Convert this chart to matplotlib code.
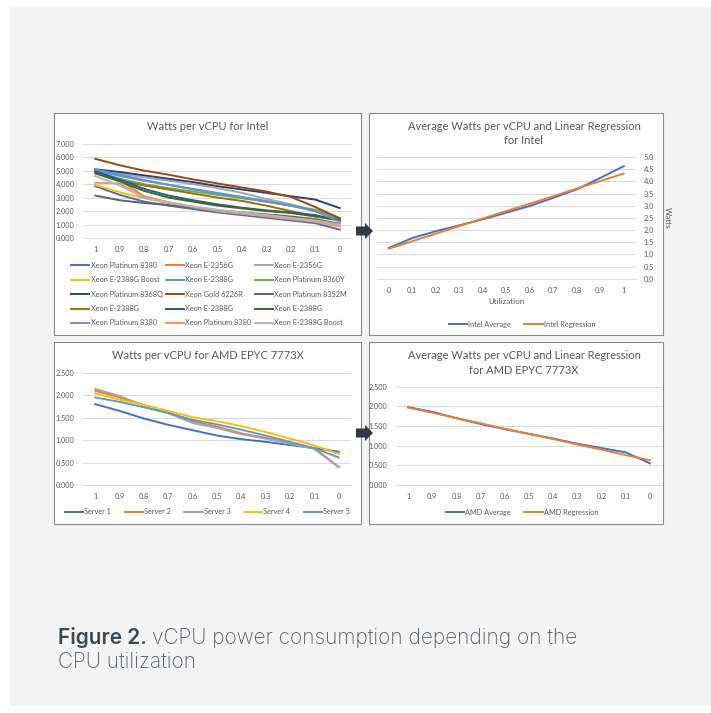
import numpy as np
import matplotlib
matplotlib.use("Agg")
import matplotlib.pyplot as plt
from matplotlib.patches import Rectangle, Polygon
from matplotlib.ticker import FormatStrFormatter

# ---- data -------------------------------------------------------------
util_desc = ["1", "0.9", "0.8", "0.7", "0.6", "0.5", "0.4", "0.3", "0.2", "0.1", "0"]
util_asc = ["0", "0.1", "0.2", "0.3", "0.4", "0.5", "0.6", "0.7", "0.8", "0.9", "1"]

intel_names = ["Xeon Platinum 8380", "Xeon E-2356G", "Xeon E-2356G",
               "Xeon E-2388G Boost", "Xeon E-2388G", "Xeon Platinum 8360Y",
               "Xeon Platinum 8368Q", "Xeon Gold 6226R", "Xeon Platinum 8352M",
               "Xeon E-2388G", "Xeon E-2388G", "Xeon E-2388G",
               "Xeon Platinum 8380", "Xeon Platinum 8380", "Xeon E-2388G Boost"]
intel_colors = ["#4472C4", "#ED7D31", "#A5A5A5", "#FFC000", "#5B9BD5", "#70AD47",
                "#264478", "#9E480E", "#636363", "#997300", "#255E91", "#43682B",
                "#698ED0", "#F1975A", "#B7B7B7"]
intel_values = [
    [3.85, 3.20, 2.70, 2.40, 2.15, 1.90, 1.70, 1.50, 1.30, 1.10, 0.62],
    [4.90, 4.30, 3.10, 2.65, 2.30, 2.05, 1.85, 1.65, 1.45, 1.25, 0.90],
    [5.05, 4.80, 4.50, 4.25, 4.00, 3.70, 3.35, 2.90, 2.50, 2.00, 1.30],
    [3.95, 3.40, 2.95, 2.60, 2.30, 2.05, 1.85, 1.65, 1.45, 1.25, 0.90],
    [5.00, 4.60, 4.25, 3.95, 3.65, 3.35, 3.05, 2.75, 2.40, 2.00, 1.35],
    [4.90, 4.40, 4.00, 3.70, 3.45, 3.20, 2.95, 2.70, 2.40, 2.10, 1.50],
    [5.10, 4.90, 4.65, 4.40, 4.15, 3.85, 3.60, 3.35, 3.10, 2.85, 2.22],
    [5.88, 5.40, 5.00, 4.70, 4.35, 4.05, 3.75, 3.45, 3.05, 2.30, 1.45],
    [3.15, 2.80, 2.60, 2.45, 2.25, 2.05, 1.90, 1.75, 1.60, 1.40, 1.05],
    [4.85, 4.30, 3.90, 3.60, 3.30, 3.00, 2.75, 2.40, 2.00, 1.60, 1.35],
    [4.95, 4.35, 3.65, 3.15, 2.80, 2.50, 2.25, 2.05, 1.90, 1.70, 1.30],
    [4.80, 4.20, 3.50, 3.00, 2.70, 2.40, 2.20, 2.00, 1.85, 1.60, 1.30],
    [5.10, 4.70, 4.30, 3.95, 3.60, 3.30, 3.00, 2.70, 2.40, 2.00, 1.20],
    [4.10, 4.05, 3.00, 2.60, 2.30, 2.00, 1.80, 1.60, 1.40, 1.20, 0.85],
    [4.60, 3.90, 3.00, 2.65, 2.35, 2.10, 1.90, 1.70, 1.50, 1.30, 1.00],
]

intel_avg = [1.26, 1.67, 1.95, 2.19, 2.44, 2.71, 2.99, 3.32, 3.67, 4.14, 4.62]
intel_reg = [1.23, 1.54, 1.85, 2.16, 2.47, 2.78, 3.08, 3.39, 3.70, 4.01, 4.32]

amd_names = ["Server 1", "Server 2", "Server 3", "Server 4", "Server 5"]
amd_colors = ["#4472C4", "#ED7D31", "#A5A5A5", "#FFC000", "#5B9BD5"]
amd_values = [
    [1.80, 1.65, 1.48, 1.34, 1.22, 1.10, 1.02, 0.96, 0.89, 0.82, 0.74],
    [2.10, 1.95, 1.78, 1.62, 1.42, 1.30, 1.15, 1.05, 0.93, 0.82, 0.40],
    [2.14, 1.98, 1.77, 1.60, 1.38, 1.27, 1.13, 1.03, 0.92, 0.80, 0.39],
    [2.04, 1.90, 1.78, 1.65, 1.51, 1.42, 1.31, 1.18, 1.03, 0.88, 0.69],
    [1.95, 1.85, 1.73, 1.60, 1.45, 1.35, 1.23, 1.10, 0.96, 0.82, 0.61],
]
amd_avg = [1.98, 1.86, 1.70, 1.55, 1.42, 1.30, 1.18, 1.05, 0.94, 0.83, 0.55]
amd_reg = [1.97, 1.84, 1.70, 1.57, 1.43, 1.30, 1.17, 1.03, 0.90, 0.76, 0.63]

# ---- layout helpers (pixel coords, origin top-left) --------------------
W, H = 711, 713
TXT = "#595959"
GRID = "#D9D9D9"
TITLE_FS = 8.0
SMALL_FS = 5.3

plt.rcParams["font.family"] = ["Lato", "DejaVu Sans"]

fig = plt.figure(figsize=(W / 100, H / 100), dpi=100)
fig.patch.set_facecolor("white")


def fbox(x0, y0, x1, y1):
    return [x0 / W, 1 - y1 / H, (x1 - x0) / W, (y1 - y0) / H]


def fx(x):
    return x / W


def fy(y):
    return 1 - y / H


def rect(x0, y0, x1, y1, **kw):
    r = Rectangle((fx(x0), fy(y1)), (x1 - x0) / W, (y1 - y0) / H,
                  transform=fig.transFigure, **kw)
    fig.patches.append(r)


# page background and panels
rect(10, 7, 711, 706, facecolor="#F4F4F4", edgecolor="none", zorder=-2)
for p in [(54, 113, 361, 335), (369, 113, 663, 335),
          (54, 342, 361, 524), (369, 342, 663, 524)]:
    rect(*p, facecolor="white", edgecolor="#8A8A8A", lw=0.8, zorder=-1)


def style_axis(ax, ymax, ystep, fmt, right=False):
    ax.set_zorder(2)
    ax.set_facecolor("none")
    ax.set_ylim(0, ymax)
    ax.set_yticks(np.arange(0, ymax + ystep / 2, ystep))
    ax.yaxis.set_major_formatter(FormatStrFormatter(fmt))
    ax.set_xlim(-0.5, 10.5)
    ax.grid(axis="y", color=GRID, lw=0.7)
    ax.set_axisbelow(True)
    for s in ["top", "left", "right"]:
        ax.spines[s].set_visible(False)
    ax.spines["bottom"].set_color(GRID)
    ax.spines["bottom"].set_linewidth(0.7)
    ax.tick_params(length=0, labelsize=SMALL_FS, labelcolor=TXT, pad=6)
    if right:
        ax.yaxis.tick_right()
        ax.yaxis.set_label_position("right")


def legend(handles, labels, ncol, cx, cy, **kw):
    opts = dict(ncol=ncol, loc="center", bbox_to_anchor=(fx(cx), fy(cy)),
                frameon=False, fontsize=SMALL_FS, labelcolor=TXT,
                handlelength=2.5, handletextpad=0.15, columnspacing=1.8,
                borderpad=0, borderaxespad=0)
    opts.update(kw)
    fig.legend(handles, labels, **opts)


x = np.arange(len(util_desc))

# ---- Intel per model ----------------------------------------------------
ax1 = fig.add_axes(fbox(83, 143.7, 352, 238))
for vals, c, n in zip(intel_values, intel_colors, intel_names):
    ax1.plot(x, vals, color=c, lw=1.4, label=n)
style_axis(ax1, 7, 1, "%.3f")
ax1.set_xticks(x, util_desc)
fig.text(fx(207.5), fy(126), "Watts per vCPU for Intel", ha="center", va="center",
         fontsize=TITLE_FS, color=TXT)
h, l = ax1.get_legend_handles_labels()
order = [r * 3 + c for c in range(3) for r in range(5)]
legend([h[i] for i in order], [l[i] for i in order], 3, 0, 0,
       loc="upper left", bbox_to_anchor=(fx(71), fy(262)),
       columnspacing=0.45, labelspacing=1.0)

# ---- Intel average + regression ----------------------------------------
ax2 = fig.add_axes(fbox(377, 157, 635.5, 278.7))
ax2.plot(x, intel_avg, color="#4472C4", lw=1.4, label="Intel Average")
ax2.plot(x, intel_reg, color="#ED7D31", lw=1.4, label="Intel Regression")
style_axis(ax2, 5, 0.5, "%.1f", right=True)
ax2.set_xticks(x, util_asc)
ax2.set_xlabel("Utilization", fontsize=5.8, color=TXT, labelpad=3)
ax2.set_ylabel("Watts", fontsize=5.8, color=TXT, rotation=270, labelpad=12)
fig.text(fx(524), fy(126), "Average Watts per vCPU and Linear Regression",
         ha="center", va="center", fontsize=TITLE_FS, color=TXT)
fig.text(fx(524), fy(140), "for Intel", ha="center", va="center",
         fontsize=TITLE_FS, color=TXT)
legend(*ax2.get_legend_handles_labels(), 2, 522, 324)

# ---- AMD per server -----------------------------------------------------
ax3 = fig.add_axes(fbox(83, 372.7, 351, 485))
for vals, c, n in zip(amd_values, amd_colors, amd_names):
    ax3.plot(x, vals, color=c, lw=1.4, label=n)
style_axis(ax3, 2.5, 0.5, "%.3f")
ax3.set_xticks(x, util_desc)
fig.text(fx(207.5), fy(355), "Watts per vCPU for AMD EPYC 7773X", ha="center",
         va="center", fontsize=TITLE_FS, color=TXT)
legend(*ax3.get_legend_handles_labels(), 5, 207.5, 512)

# ---- AMD average + regression ------------------------------------------
ax4 = fig.add_axes(fbox(396, 386.7, 662, 485))
ax4.plot(x, amd_avg, color="#4472C4", lw=1.4, label="AMD Average")
ax4.plot(x, amd_reg, color="#ED7D31", lw=1.4, label="AMD Regression")
style_axis(ax4, 2.5, 0.5, "%.3f")
ax4.set_xticks(x, util_desc)
fig.text(fx(524), fy(355), "Average Watts per vCPU and Linear Regression",
         ha="center", va="center", fontsize=TITLE_FS, color=TXT)
fig.text(fx(524), fy(370), "for AMD EPYC 7773X", ha="center", va="center",
         fontsize=TITLE_FS, color=TXT)
legend(*ax4.get_legend_handles_labels(), 2, 522, 512)

# ---- arrows between panels ----------------------------------------------
for cy in [231, 433]:
    pts = [(356, cy - 4.5), (365, cy - 4.5), (365, cy - 8), (373, cy),
           (365, cy + 8), (365, cy + 4.5), (356, cy + 4.5)]
    fig.patches.append(Polygon([(fx(a), fy(b)) for a, b in pts], closed=True,
                               transform=fig.transFigure, facecolor="#2E3A45",
                               edgecolor="none", zorder=5))

# ---- caption ------------------------------------------------------------
cap_color = "#56606A"
cap_fs = 15.0
t1 = fig.text(fx(58), fy(638), "Figure 2.", ha="left", va="center",
              fontsize=cap_fs, color="#3E4852", fontweight="semibold",
              family="Inter")
fig.canvas.draw()
bb = t1.get_window_extent(renderer=fig.canvas.get_renderer())
fig.text(bb.x1 / W + fx(5), fy(638), "vCPU power consumption depending on the",
         ha="left", va="center", fontsize=cap_fs, color=cap_color,
         family="Inter", fontweight="light")
fig.text(fx(58), fy(662), "CPU utilization", ha="left", va="center",
         fontsize=cap_fs, color=cap_color, family="Inter", fontweight="light")

fig.savefig("out.png", dpi=100)
